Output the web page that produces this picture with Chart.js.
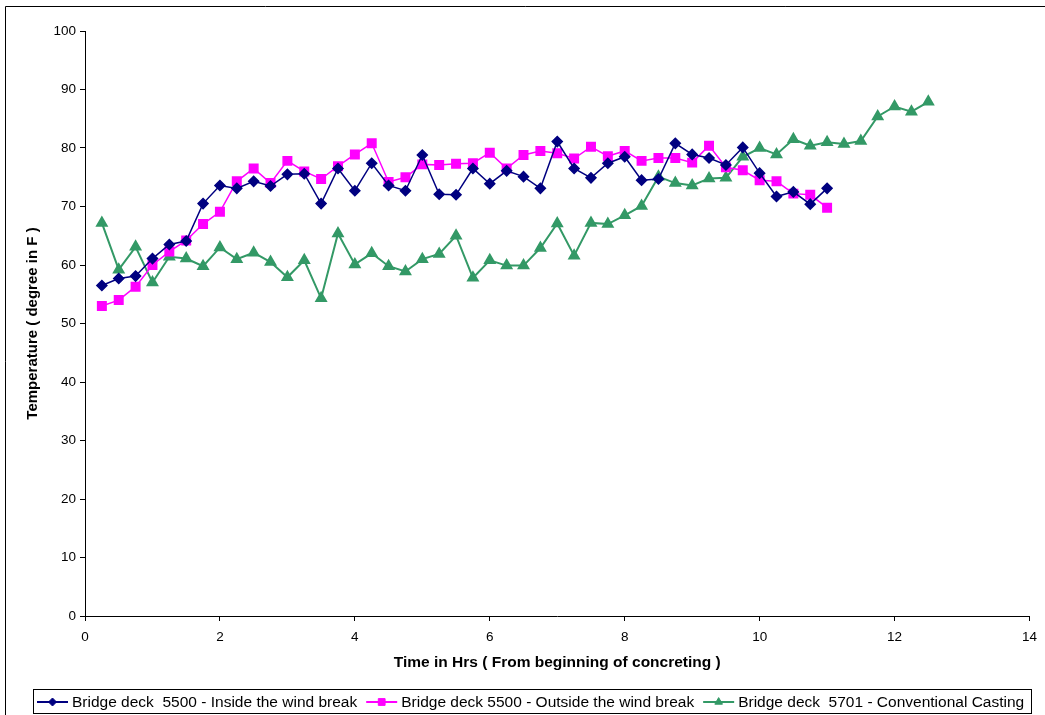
<!DOCTYPE html>
<html>
<head>
<meta charset="utf-8">
<script src="https://cdn.jsdelivr.net/npm/chart.js@4/dist/chart.umd.min.js"></script>
<style>
  body { margin: 0; background: #fff; }
  canvas { display: block; }
</style>
</head>
<body>
<canvas id="temp-chart" width="1045" height="715"></canvas>
<script>
// hours since start of pour
const hoursA = [0.25, 0.5, 0.75, 1, 1.25, 1.5, 1.75, 2, 2.25, 2.5, 2.75, 3, 3.25, 3.5, 3.75, 4, 4.25, 4.5, 4.75, 5,
    5.25, 5.5, 5.75, 6, 6.25, 6.5, 6.75, 7, 7.25, 7.5, 7.75, 8, 8.25, 8.5, 8.75, 9, 9.25, 9.5, 9.75, 10,
    10.25, 10.5, 10.75, 11];
const hoursC = [0.25, 0.5, 0.75, 1, 1.25, 1.5, 1.75, 2, 2.25, 2.5, 2.75, 3, 3.25, 3.5, 3.75, 4, 4.25, 4.5, 4.75, 5,
    5.25, 5.5, 5.75, 6, 6.25, 6.5, 6.75, 7, 7.25, 7.5, 7.75, 8, 8.25, 8.5, 8.75, 9, 9.25, 9.5, 9.75, 10,
    10.25, 10.5, 10.75, 11, 11.25, 11.5, 11.75, 12, 12.25, 12.5];

const inside = [56.5, 57.7, 58.1, 61.1, 63.5, 64.1, 70.5, 73.6, 73.1, 74.3, 73.5, 75.5, 75.6, 70.5, 76.5, 72.7, 77.4, 73.6, 72.7, 78.8,
    72.1, 72.0, 76.5, 73.9, 76.1, 75.1, 73.1, 81.1, 76.5, 74.9, 77.4, 78.5, 74.5, 74.7, 80.8, 78.9, 78.3, 77.1, 80.1, 75.7,
    71.7, 72.5, 70.4, 73.1];
const outside = [53.0, 54.0, 56.3, 60.0, 62.3, 64.2, 67.0, 69.1, 74.3, 76.5, 74.0, 77.8, 76.0, 74.7, 76.9, 78.9, 80.8, 74.2, 75.0, 77.2,
    77.1, 77.3, 77.4, 79.2, 76.5, 78.8, 79.5, 79.1, 78.2, 80.2, 78.6, 79.5, 77.8, 78.3, 78.3, 77.5, 80.4, 76.7, 76.2, 74.5,
    74.3, 72.2, 72.0, 69.8];
const conventional = [67.2, 59.2, 63.1, 57.0, 61.4, 61.1, 59.8, 63.0, 61.0, 62.1, 60.5, 57.9, 60.8, 54.3, 65.4, 60.1, 62.0, 59.8, 58.9, 61.0,
    61.9, 65.0, 57.8, 60.8, 59.9, 59.9, 62.9, 67.1, 61.6, 67.2, 67.0, 68.5, 70.1, 75.1, 74.0, 73.6, 74.8, 74.9, 78.5, 80.0,
    78.9, 81.5, 80.4, 81.0, 80.7, 81.2, 85.4, 87.1, 86.2, 87.9];

const seriesNames = [
    'Bridge deck  5500 - Inside the wind break',
    'Bridge deck 5500 - Outside the wind break',
    'Bridge deck  5701 - Conventional Casting'
];

function pairs(xs, ys) {
    return ys.map((y, i) => ({ x: xs[i], y: y }));
}

const FONT = "'Liberation Sans', Arial, sans-serif";

// excel-ish frame + legend box under the plot
const frameLegend = {
    id: 'frameLegend',
    afterDraw(chart) {
        const ctx = chart.ctx;
        ctx.save();
        ctx.strokeStyle = '#000';
        ctx.lineWidth = 1;
        ctx.beginPath();
        ctx.moveTo(5.5, 716);
        ctx.lineTo(5.5, 6.5);
        ctx.lineTo(1045, 6.5);
        ctx.stroke();

        ctx.strokeRect(33.5, 689.5, 998, 24);

        ctx.font = '15.5px ' + FONT;
        ctx.textBaseline = 'middle';
        let x = 37;
        const y = 702;
        chart.data.datasets.forEach(ds => {
            ctx.strokeStyle = ds.borderColor;
            ctx.lineWidth = 2;
            ctx.beginPath();
            ctx.moveTo(x, y);
            ctx.lineTo(x + 31, y);
            ctx.stroke();
            ctx.fillStyle = ds.pointBackgroundColor;
            ctx.strokeStyle = ds.borderColor;
            ctx.lineWidth = 1;
            Chart.helpers.drawPoint(ctx, {
                pointStyle: ds.pointStyle,
                radius: ds.pointRadius * 0.8,
                borderWidth: 1,
                rotation: 0
            }, x + 15.5, y);
            ctx.fillStyle = '#000';
            ctx.fillText(ds.label, x + 35, y + 1);
            x += 35 + ctx.measureText(ds.label).width + 9;
        });
        ctx.restore();
    }
};

new Chart(document.querySelector('#temp-chart').getContext('2d'), {
    type: 'line',
    data: {
        datasets: [
            {
                label: seriesNames[0],
                data: pairs(hoursA, inside),
                borderColor: '#000080',
                backgroundColor: '#000080',
                pointBackgroundColor: '#000080',
                pointStyle: 'rectRot',
                pointRadius: 5,
                borderWidth: 1.5,
                tension: 0
            },
            {
                label: seriesNames[1],
                data: pairs(hoursA, outside),
                borderColor: '#FF00FF',
                backgroundColor: '#FF00FF',
                pointBackgroundColor: '#FF00FF',
                pointStyle: 'rect',
                pointRadius: 6,
                borderWidth: 1.5,
                tension: 0
            },
            {
                label: seriesNames[2],
                data: pairs(hoursC, conventional),
                borderColor: '#339966',
                backgroundColor: '#339966',
                pointBackgroundColor: '#339966',
                pointStyle: 'triangle',
                pointRadius: 5.5,
                borderWidth: 2,
                tension: 0
            }
        ]
    },
    options: {
        responsive: false,
        animation: false,
        devicePixelRatio: 1,
        layout: { padding: { left: 0, top: 31, right: 13, bottom: 39 } },
        plugins: {
            legend: { display: false },
            tooltip: { enabled: false }
        },
        scales: {
            x: {
                type: 'linear',
                min: 0,
                max: 14,
                afterFit: s => { s.height = 60; },
                ticks: { stepSize: 2, color: '#000', padding: 8, font: { family: FONT, size: 13.5 } },
                grid: { drawOnChartArea: false, tickLength: 5, tickColor: '#000' },
                border: { color: '#000', width: 1 },
                title: {
                    display: true,
                    text: 'Time in Hrs ( From beginning of concreting )',
                    color: '#000',
                    font: { family: FONT, size: 15.5, weight: 'bold' },
                    padding: { top: 0, bottom: 4 }
                }
            },
            y: {
                min: 0,
                max: 100,
                afterFit: s => { s.width = 85; },
                ticks: { stepSize: 10, color: '#000', padding: 4, font: { family: FONT, size: 13.5 } },
                grid: { drawOnChartArea: false, tickLength: 5, tickColor: '#000' },
                border: { color: '#000', width: 1 },
                title: {
                    display: true,
                    text: 'Temperature ( degree in F )',
                    color: '#000',
                    font: { family: FONT, size: 15, weight: 'bold' },
                    padding: { top: 24, bottom: 0 }
                }
            }
        }
    },
    plugins: [frameLegend]
});
</script>
</body>
</html>
